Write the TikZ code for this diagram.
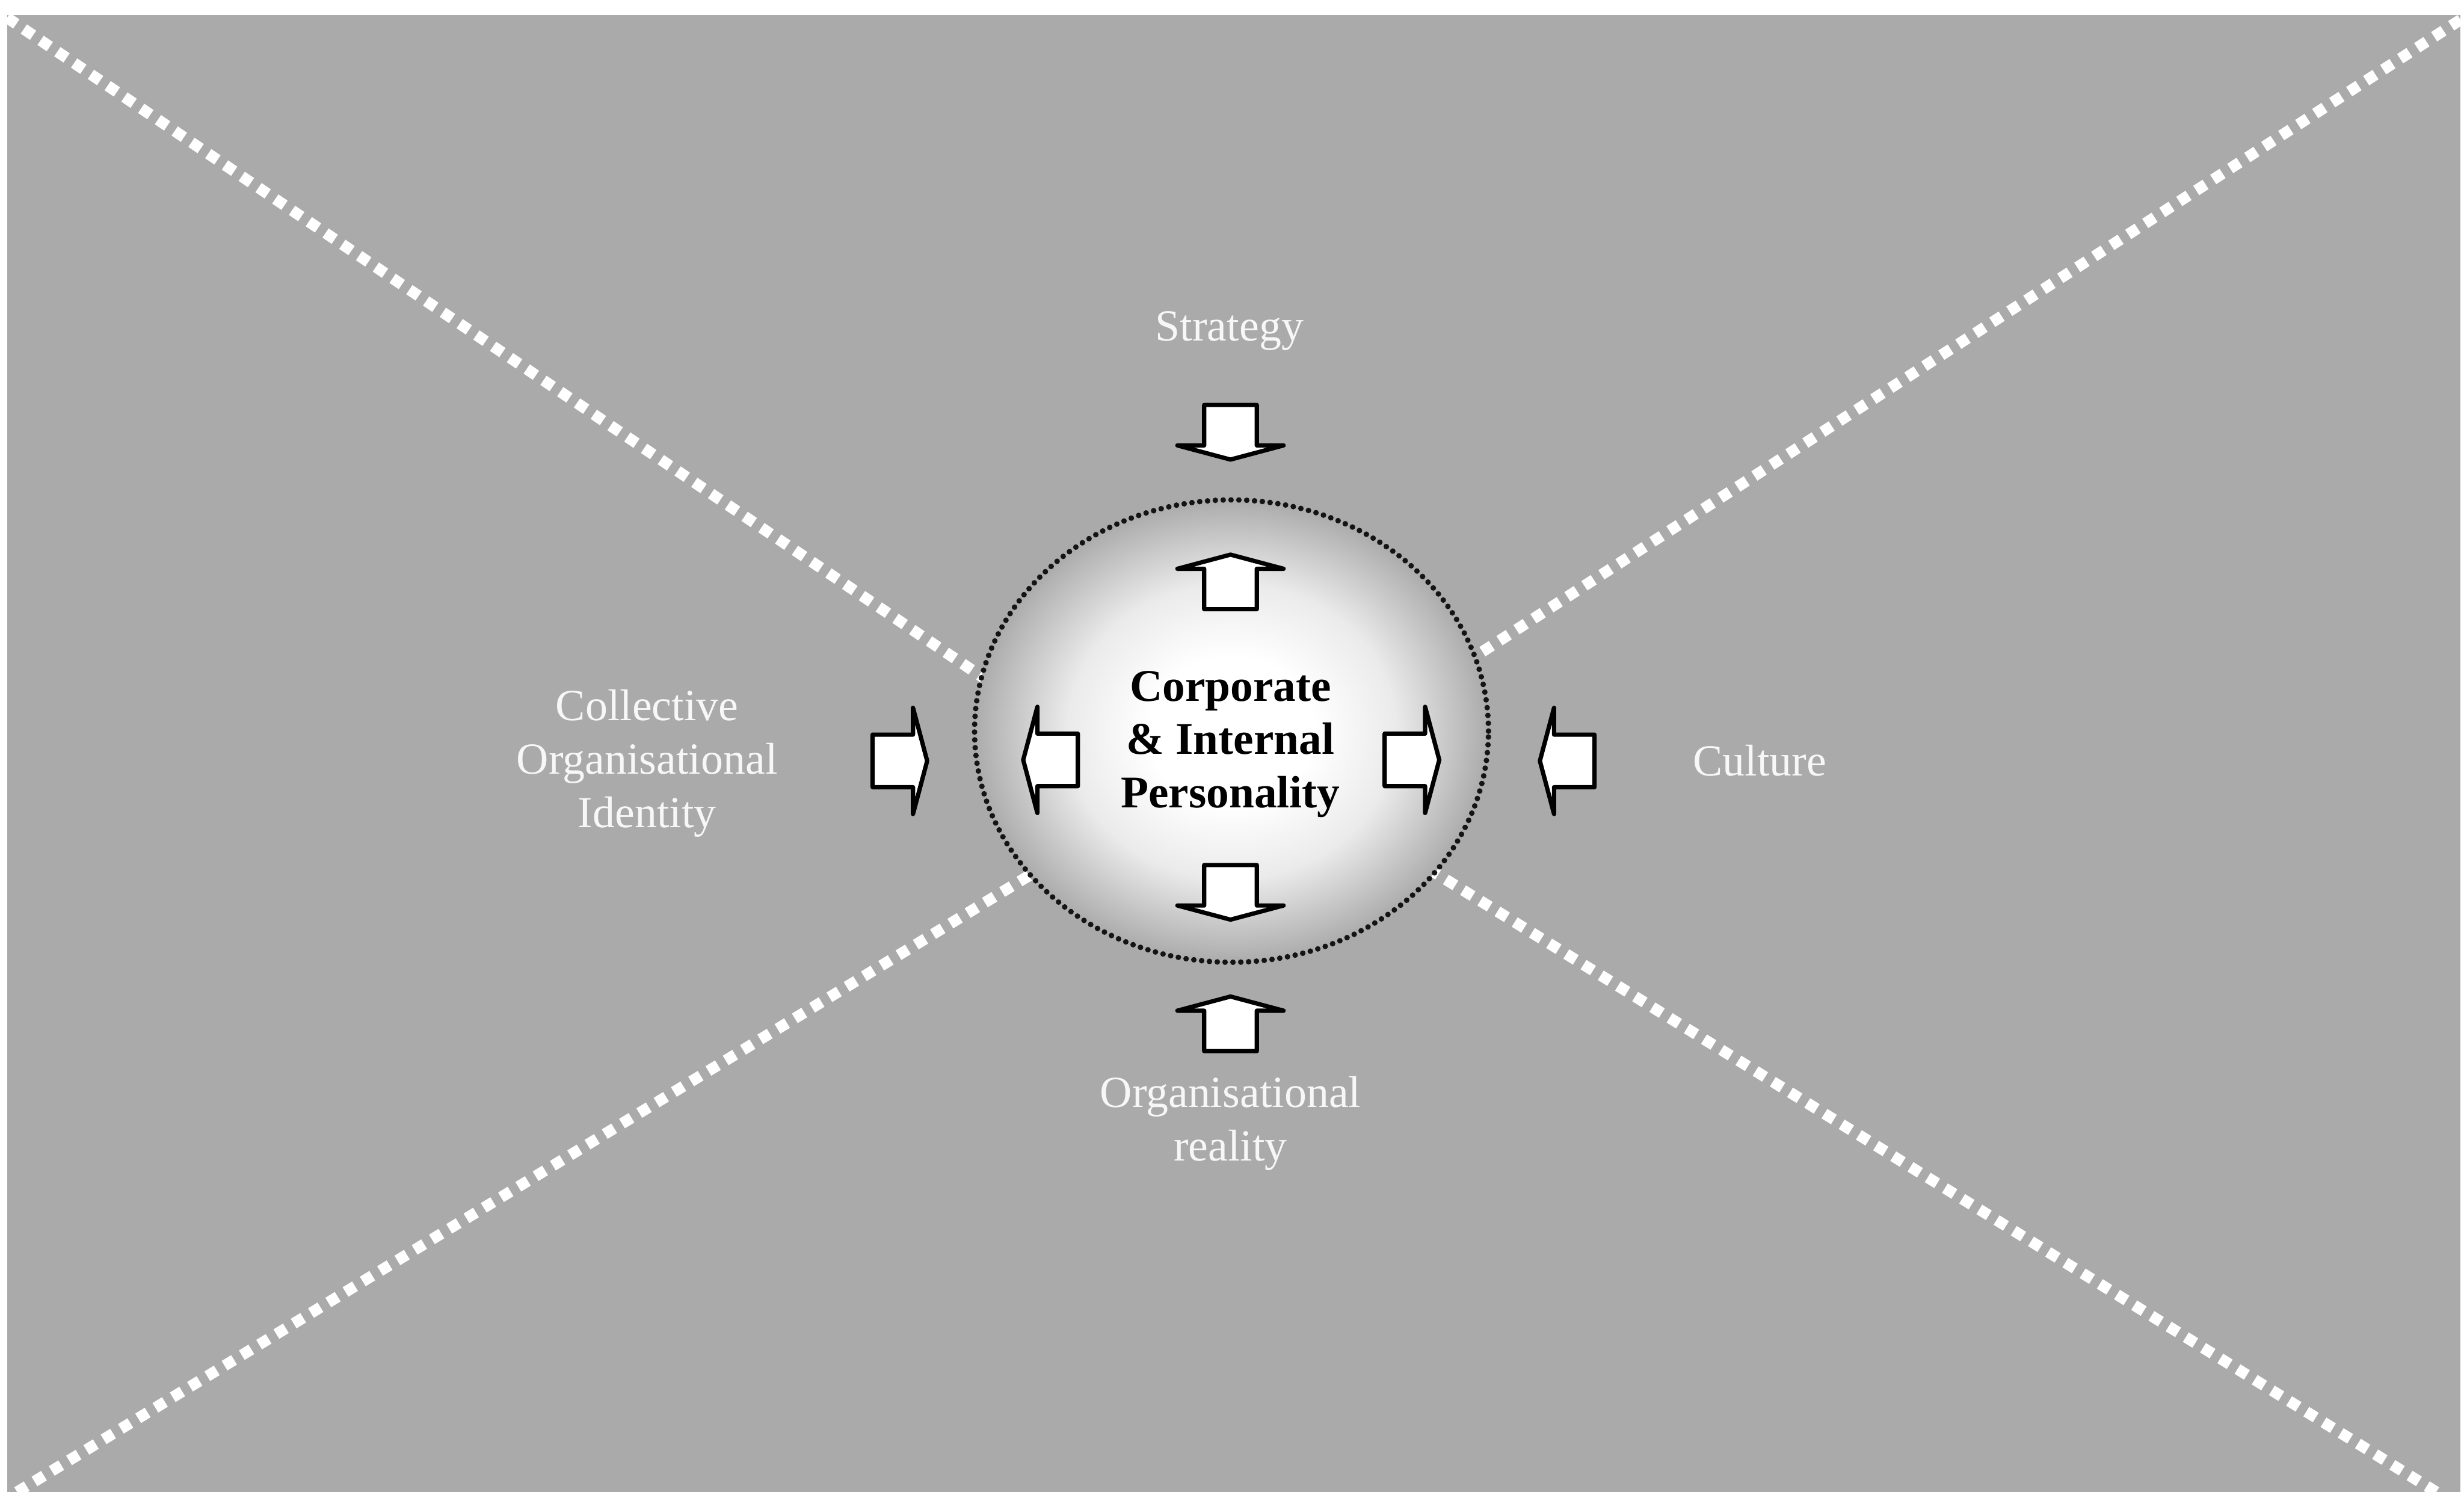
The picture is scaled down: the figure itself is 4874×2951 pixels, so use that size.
\documentclass[tikz,border=0pt]{standalone}
\usepackage{fontspec}
\setmainfont{Liberation Serif}
\usetikzlibrary{shapes.geometric}

\definecolor{panelgray}{gray}{0.665}
\definecolor{labelwhite}{gray}{0.97}
\definecolor{dotdark}{gray}{0.08}

% light centre fading to a dark rim (rim of the ellipse sits near 35bp)
\pgfdeclareradialshading{ballshade}{\pgfpoint{0bp}{0bp}}{%
  color(0bp)=(white);
  color(8bp)=(white);
  color(16bp)=(black!8);
  color(24bp)=(black!30);
  color(31bp)=(black!50);
  color(35.5bp)=(black!58);
  color(72bp)=(black!58)}

\tikzset{
  sepline/.style={draw=white, line width=0.22cm, dash pattern=on 0.22cm off 0.18cm},
  core/.style={ellipse, inner sep=0pt, minimum width=10.16cm, minimum height=9.14cm,
    shading=ballshade, draw=dotdark, line width=0.11cm, line cap=round,
    dash pattern=on 0pt off 0.155cm},
  coretext/.style={align=center, text=black, font=\bfseries\fontsize{25.5}{30}\selectfont},
  outerlabel/.style={align=center, text=labelwhite, font=\fontsize{25}{30}\selectfont},
  arrowbody/.style={fill=white, draw=black, line width=0.085cm, line join=round},
  blockarrow/.pic={
    \path[arrowbody] (-54,-52) -- (26,-52) -- (26,-105) -- (54,0) -- (26,105)
      -- (26,52) -- (-54,52) -- cycle;
  }
}

\begin{document}
\begin{tikzpicture}[x=0.01cm, y=-0.01cm]
  \useasboundingbox (0,0) rectangle (4874,2951);
  \fill[white] (0,0) rectangle (4874,2951);

  % grey panel
  \coordinate (panel-tl) at (14,30);
  \coordinate (panel-br) at (4867,2951);
  \fill[panelgray] (panel-tl) rectangle (panel-br);

  % dotted diagonals running from the corners towards the centre
  \coordinate (tl-corner) at (14,35);
  \coordinate (tl-inner) at (1977,1362);
  \coordinate (tr-corner) at (4867,39);
  \coordinate (tr-inner) at (2875,1326);
  \coordinate (bl-corner) at (34,2951);
  \coordinate (bl-inner) at (2065,1714);
  \coordinate (br-corner) at (4819,2951);
  \coordinate (br-inner) at (2817,1713);
  \begin{scope}
    \clip (panel-tl) rectangle (panel-br);
    \draw[sepline] (tl-corner) -- (tl-inner);
    \draw[sepline] (tr-corner) -- (tr-inner);
    \draw[sepline] (bl-corner) -- (bl-inner);
    \draw[sepline] (br-corner) -- (br-inner);
  \end{scope}

  % central sphere
  \node[core] (core) at (2436,1446) {};
  \node[coretext] (core-label) at (2434,1472) {Corporate\\\& Internal\\Personality};

  % outer labels
  \node[outerlabel] (strategy) at (2432,655) {Strategy};
  \node[outerlabel] (reality) at (2434,2222) {Organisational\\reality};
  \node[outerlabel] (identity) at (1280,1510) {Collective\\Organisational\\Identity};
  \node[outerlabel] (culture) at (3481,1504) {Culture};

  % block arrows
  \coordinate (arr-strategy) at (2434,855);
  \coordinate (arr-inner-top) at (2434,1151);
  \coordinate (arr-inner-bottom) at (2434,1765);
  \coordinate (arr-reality) at (2434,2025);
  \coordinate (arr-identity) at (1780,1505);
  \coordinate (arr-inner-left) at (2078,1503);
  \coordinate (arr-inner-right) at (2793,1503);
  \coordinate (arr-culture) at (3100,1505);

  \pic[rotate=-90] at (arr-strategy) {blockarrow};
  \pic[rotate=90] at (arr-inner-top) {blockarrow};
  \pic[rotate=-90] at (arr-inner-bottom) {blockarrow};
  \pic[rotate=90] at (arr-reality) {blockarrow};
  \pic at (arr-identity) {blockarrow};
  \pic[rotate=180] at (arr-inner-left) {blockarrow};
  \pic at (arr-inner-right) {blockarrow};
  \pic[rotate=180] at (arr-culture) {blockarrow};
\end{tikzpicture}
\end{document}
